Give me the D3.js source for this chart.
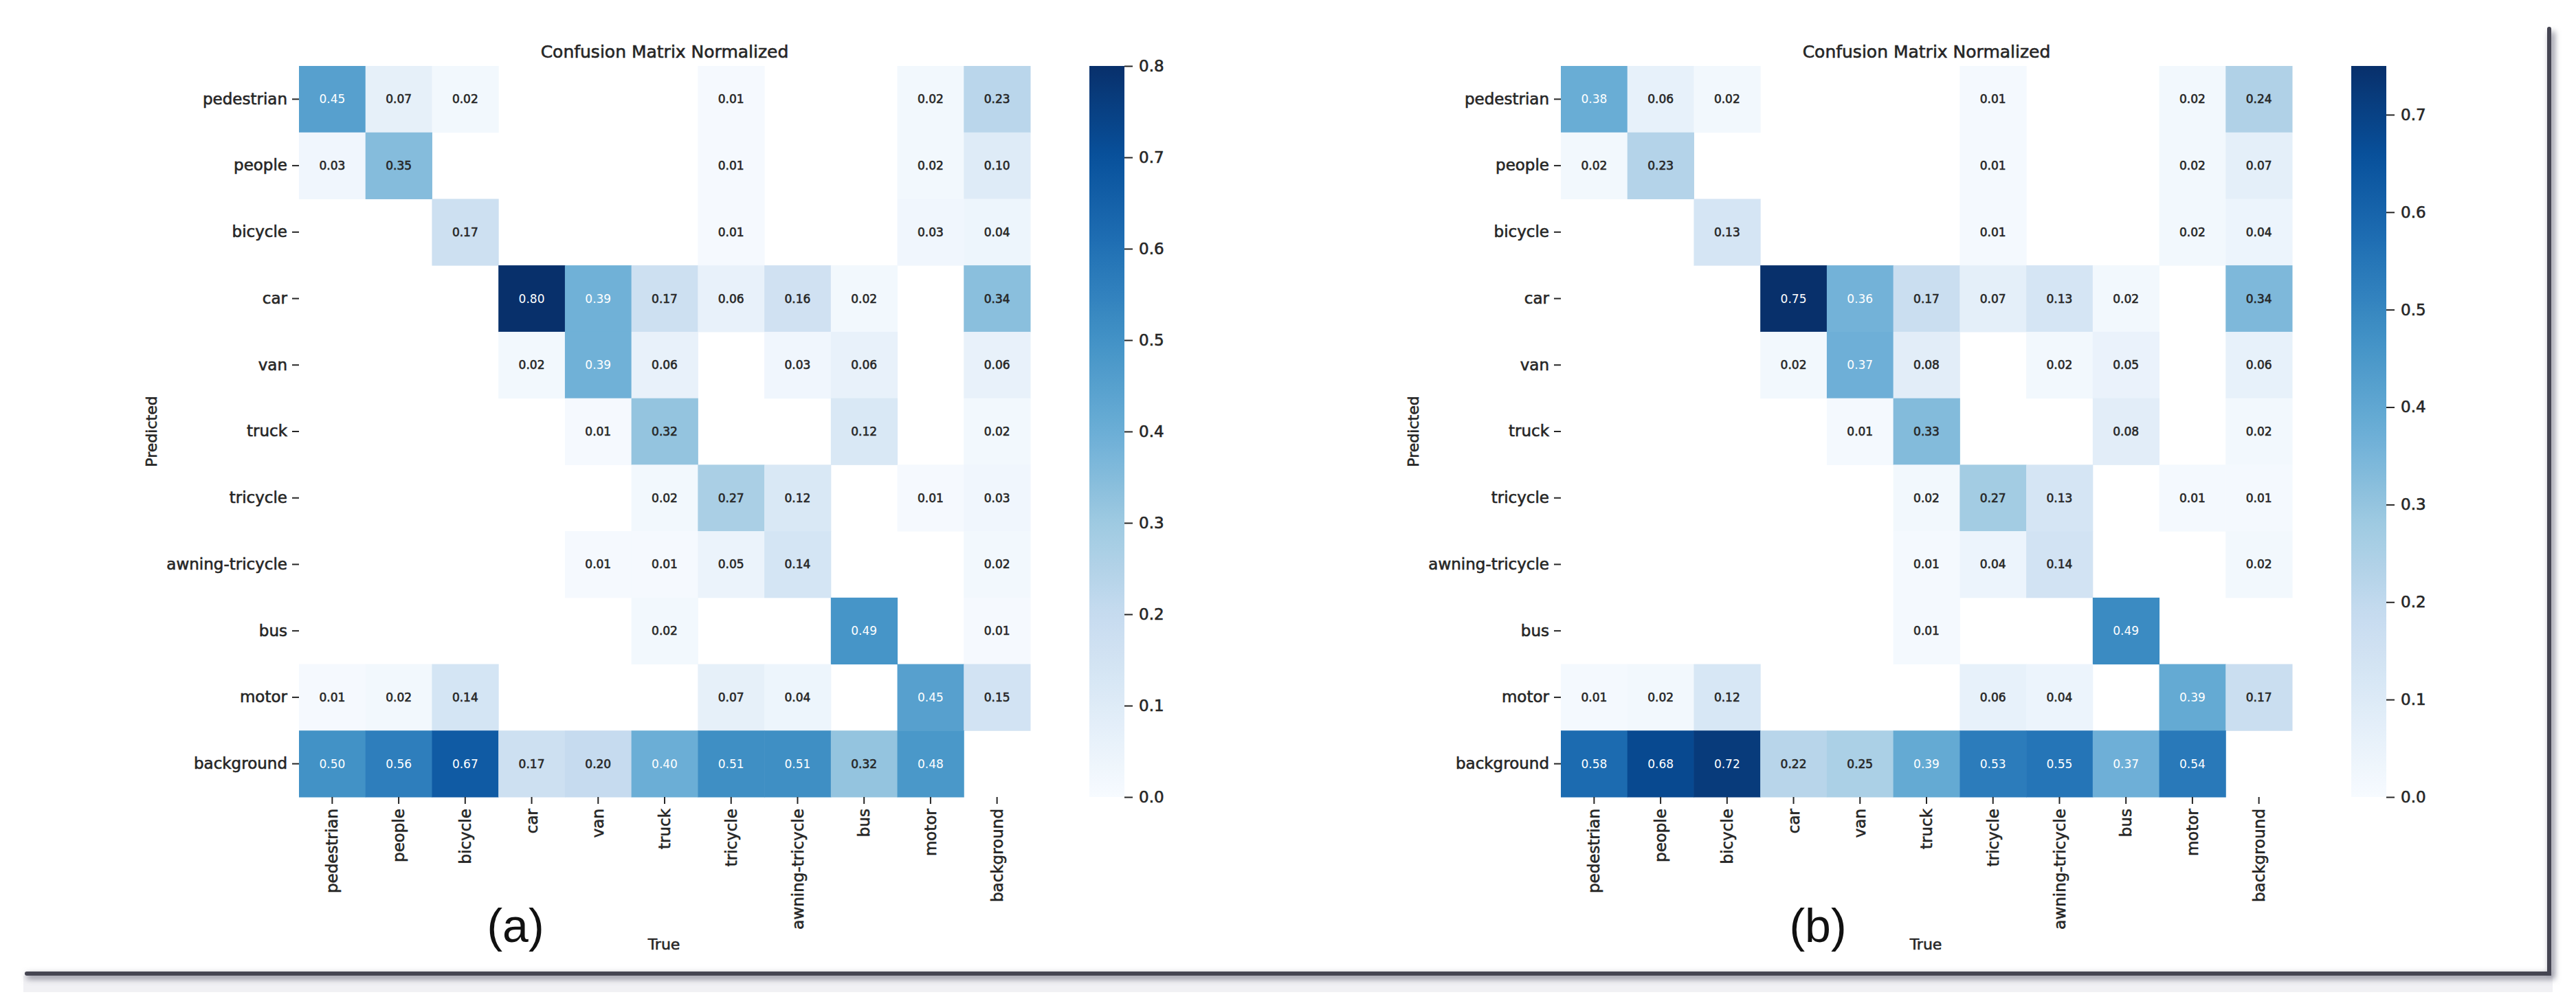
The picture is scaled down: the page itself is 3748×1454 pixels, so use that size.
<!DOCTYPE html>
<html>
<head>
<meta charset="utf-8">
<script src="https://cdn.jsdelivr.net/npm/d3@7"></script>
<style>
    html, body { margin: 0; padding: 0; background: #fff; }
    svg { display: block; }
    text { font-family: "DejaVu Sans", sans-serif; }
    .heavy { stroke-width: 0.6px; paint-order: stroke; }
</style>
</head>
<body>
<div id="chart"></div>
<script>
// Class names, used for both axes (rows = Predicted, columns = True)
const classes = ["pedestrian", "people", "bicycle", "car", "van", "truck",
    "tricycle", "awning-tricycle", "bus", "motor", "background"];

// Normalized confusion matrix (a); null = blank cell
const matrixA = [
    [0.45, 0.07, 0.02, null, null, null, 0.01, null, null, 0.02, 0.23],
    [0.03, 0.35, null, null, null, null, 0.01, null, null, 0.02, 0.10],
    [null, null, 0.17, null, null, null, 0.01, null, null, 0.03, 0.04],
    [null, null, null, 0.80, 0.39, 0.17, 0.06, 0.16, 0.02, null, 0.34],
    [null, null, null, 0.02, 0.39, 0.06, null, 0.03, 0.06, null, 0.06],
    [null, null, null, null, 0.01, 0.32, null, null, 0.12, null, 0.02],
    [null, null, null, null, null, 0.02, 0.27, 0.12, null, 0.01, 0.03],
    [null, null, null, null, 0.01, 0.01, 0.05, 0.14, null, null, 0.02],
    [null, null, null, null, null, 0.02, null, null, 0.49, null, 0.01],
    [0.01, 0.02, 0.14, null, null, null, 0.07, 0.04, null, 0.45, 0.15],
    [0.50, 0.56, 0.67, 0.17, 0.20, 0.40, 0.51, 0.51, 0.32, 0.48, null]
];

// Normalized confusion matrix (b)
const matrixB = [
    [0.38, 0.06, 0.02, null, null, null, 0.01, null, null, 0.02, 0.24],
    [0.02, 0.23, null, null, null, null, 0.01, null, null, 0.02, 0.07],
    [null, null, 0.13, null, null, null, 0.01, null, null, 0.02, 0.04],
    [null, null, null, 0.75, 0.36, 0.17, 0.07, 0.13, 0.02, null, 0.34],
    [null, null, null, 0.02, 0.37, 0.08, null, 0.02, 0.05, null, 0.06],
    [null, null, null, null, 0.01, 0.33, null, null, 0.08, null, 0.02],
    [null, null, null, null, null, 0.02, 0.27, 0.13, null, 0.01, 0.01],
    [null, null, null, null, null, 0.01, 0.04, 0.14, null, null, 0.02],
    [null, null, null, null, null, 0.01, null, null, 0.49, null, null],
    [0.01, 0.02, 0.12, null, null, null, 0.06, 0.04, null, 0.39, 0.17],
    [0.58, 0.68, 0.72, 0.22, 0.25, 0.39, 0.53, 0.55, 0.37, 0.54, null]
];

// Colour bar ranges and ticks
const vmaxA = 0.80;
const vmaxB = 0.75;
const colorbarTicksA = [0.0, 0.1, 0.2, 0.3, 0.4, 0.5, 0.6, 0.7, 0.8];
const colorbarTicksB = [0.0, 0.1, 0.2, 0.3, 0.4, 0.5, 0.6, 0.7];

// Text
const chartTitle = "Confusion Matrix Normalized";
const panelLetters = ["(a)", "(b)"];

// matplotlib "Blues" anchor colours
const blues = ["#f7fbff", "#deebf7", "#c6dbef", "#9ecae1", "#6baed6",
    "#4292c6", "#2171b5", "#08519c", "#08306b"];

const W = 3748, H = 1454;
const size = 1064;       // matrix side
const marginTop = 96;
const textDark = "#262626";

const svg = d3.select("#chart").append("svg")
    .attr("width", W)
    .attr("height", H);

const defs = svg.append("defs");
defs.append("filter").attr("id", "soft")
    .attr("x", "-5%").attr("y", "-50%").attr("width", "110%").attr("height", "300%")
  .append("feGaussianBlur").attr("stdDeviation", 4);

// seaborn-style luminance rule for annotation colour
function luminance(c) {
    let rgb = d3.rgb(c);
    let ch = [rgb.r, rgb.g, rgb.b].map(function(v) {
        v = v / 255;
        return v <= 0.03928 ? v / 12.92 : Math.pow((v + 0.055) / 1.055, 2.4);
    });
    return 0.2126 * ch[0] + 0.7152 * ch[1] + 0.0722 * ch[2];
}

// dark text with a hairline stroke, a bit heavier like the scanned figure
function darkText(sel, px) {
    sel.classed("heavy", true)
        .style("font-size", px + "px")
        .style("fill", textDark)
        .style("stroke", textDark)
        .style("font-family", "DejaVu Sans, sans-serif");
}

function drawPanel(opts) {
    let g = svg.append("g")
        .attr("transform", "translate(" + opts.left + "," + marginTop + ")");

    let x = d3.scaleBand().domain(classes).range([0, size]);
    let y = d3.scaleBand().domain(classes).range([0, size]);

    let color = d3.scaleLinear()
        .domain(blues.map(function(d, i) { return opts.vmax * i / (blues.length - 1); }))
        .range(blues)
        .interpolate(d3.interpolateRgb)
        .clamp(true);

    // Flatten cells
    let cells = [];
    opts.matrix.forEach(function(row, r) {
        row.forEach(function(v, c) {
            if (v !== null) cells.push({ row: classes[r], col: classes[c], value: v });
        });
    });

    g.append("g").attr("class", "cells").selectAll("rect")
        .data(cells)
      .enter().append("rect")
        .attr("x", function(d) { return x(d.col); })
        .attr("y", function(d) { return y(d.row); })
        .attr("width", x.bandwidth() + 0.5)
        .attr("height", y.bandwidth() + 0.5)
        .style("fill", function(d) { return color(d.value); });

    g.append("g").attr("class", "annot").selectAll("text")
        .data(cells)
      .enter().append("text")
        .attr("class", "heavy")
        .attr("x", function(d) { return x(d.col) + x.bandwidth() / 2; })
        .attr("y", function(d) { return y(d.row) + y.bandwidth() / 2; })
        .attr("text-anchor", "middle")
        .attr("dominant-baseline", "central")
        .style("font-size", "17px")
        .style("fill", function(d) {
            return luminance(color(d.value)) > 0.408 ? textDark : "#ffffff";
        })
        .style("stroke", function(d) {
            return luminance(color(d.value)) > 0.408 ? textDark : "none";
        })
        .text(function(d) { return d3.format(".2f")(d.value); });

    // Y axis (Predicted)
    let yAxis = g.append("g").attr("class", "y-axis")
        .call(d3.axisLeft(y).tickSize(10).tickPadding(7));
    yAxis.select(".domain").remove();
    yAxis.selectAll("line").style("stroke", textDark).style("stroke-width", 2);
    yAxis.selectAll("text").call(darkText, 23);

    // X axis (True), labels rotated
    let xAxis = g.append("g").attr("class", "x-axis")
        .attr("transform", "translate(0," + size + ")")
        .call(d3.axisBottom(x).tickSize(10).tickPadding(7));
    xAxis.select(".domain").remove();
    xAxis.selectAll("line").style("stroke", textDark).style("stroke-width", 2);
    xAxis.selectAll("text")
        .attr("transform", "rotate(-90)")
        .attr("x", -17)
        .attr("y", 0)
        .attr("dy", "0.35em")
        .attr("text-anchor", "end")
        .call(darkText, 23);

    // Title
    g.append("text")
        .attr("x", size / 2)
        .attr("y", 75 - marginTop)
        .attr("text-anchor", "middle")
        .attr("dominant-baseline", "central")
        .call(darkText, 25)
        .text(chartTitle);

    // Axis labels
    g.append("text")
        .attr("transform", "translate(" + (220 - 435) + "," + (size / 2) + ") rotate(-90)")
        .attr("text-anchor", "middle")
        .attr("dominant-baseline", "central")
        .call(darkText, 22)
        .text("Predicted");

    g.append("text")
        .attr("x", size / 2 - 1)
        .attr("y", 1374 - marginTop)
        .attr("text-anchor", "middle")
        .attr("dominant-baseline", "central")
        .call(darkText, 22)
        .text("True");

    // Panel letter
    g.append("text")
        .attr("x", opts.letterX - opts.left)
        .attr("y", 1347 - marginTop)
        .attr("text-anchor", "middle")
        .attr("dominant-baseline", "central")
        .style("font-family", "'Liberation Sans', Arial, sans-serif")
        .style("font-size", "68px")
        .style("fill", "#111")
        .text(opts.letter);

    // Colour bar
    let cbX = size + 86, cbW = 51;
    let cy = d3.scaleLinear().domain([0, opts.vmax]).range([size, 0]);
    let gradId = "grad-" + opts.id;
    let grad = defs.append("linearGradient").attr("id", gradId)
        .attr("x1", 0).attr("y1", 1).attr("x2", 0).attr("y2", 0);
    d3.range(0, 1.0001, 0.02).forEach(function(t) {
        grad.append("stop")
            .attr("offset", t)
            .attr("stop-color", color(t * opts.vmax));
    });
    let cb = g.append("g").attr("class", "colorbar")
        .attr("transform", "translate(" + cbX + ",0)");
    cb.append("rect")
        .attr("width", cbW)
        .attr("height", size)
        .style("fill", "url(#" + gradId + ")");
    let cAxis = cb.append("g")
        .attr("transform", "translate(" + cbW + ",0)")
        .call(d3.axisRight(cy).tickValues(opts.ticks).tickSize(12).tickPadding(9)
            .tickFormat(d3.format(".1f")));
    cAxis.select(".domain").remove();
    cAxis.selectAll("line").style("stroke", textDark).style("stroke-width", 2);
    cAxis.selectAll("text").call(darkText, 23);
}

drawPanel({ id: "a", left: 435, matrix: matrixA, vmax: vmaxA, ticks: colorbarTicksA,
    letter: panelLetters[0], letterX: 750 });
drawPanel({ id: "b", left: 2271, matrix: matrixB, vmax: vmaxB, ticks: colorbarTicksB,
    letter: panelLetters[1], letterX: 2645 });

// Page frame: bottom rule and right edge with soft shadow
let frame = svg.append("g").attr("class", "frame");
frame.append("rect")
    .attr("x", 34).attr("y", 1420)
    .attr("width", 3680).attr("height", 24)
    .style("fill", "#f1f1f4");
frame.append("path")
    .attr("d", "M39,1421 H3713 V46")
    .style("fill", "none")
    .style("stroke", "#8e8e9c")
    .style("stroke-width", 8)
    .attr("filter", "url(#soft)");
frame.append("path")
    .attr("d", "M39,1417 H3709 V42")
    .style("fill", "none")
    .style("stroke", "#454552")
    .style("stroke-width", 6)
    .style("stroke-linecap", "round");
</script>
</body>
</html>
